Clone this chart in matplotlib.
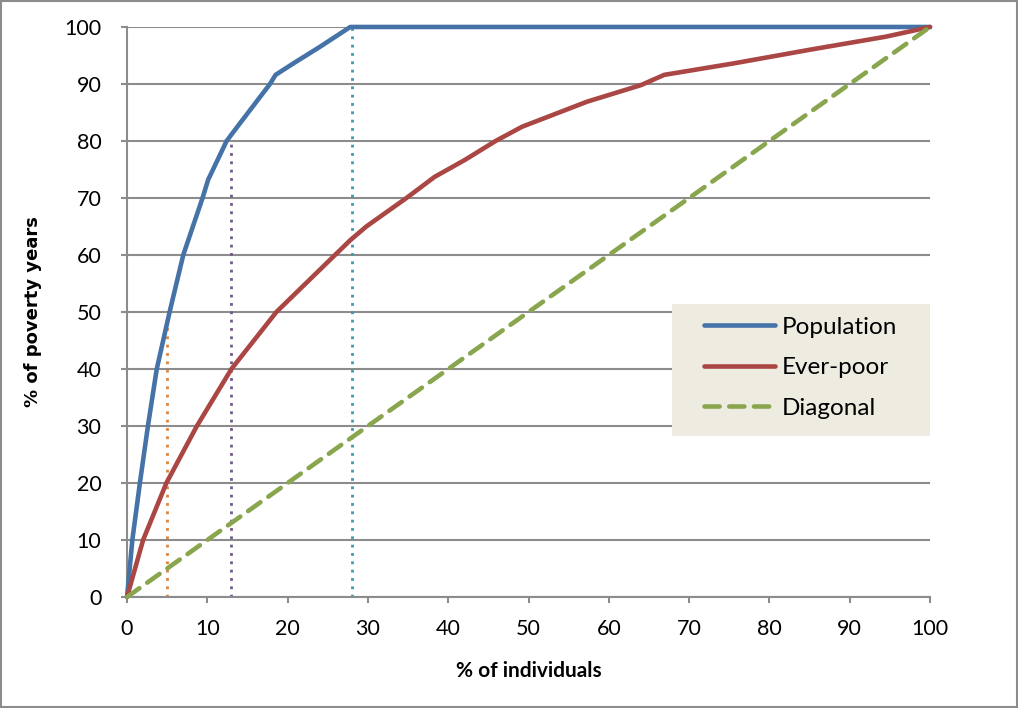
import matplotlib.pyplot as plt
from matplotlib.patches import Rectangle

# data
pop_x = [0, 0.66, 1.6, 2.6, 3.7, 5.3, 7.0, 9.4, 10.1, 12.4, 13.9, 17.8, 18.5, 20.7, 24, 27.8, 100]
pop_y = [0, 10, 20, 30, 40, 50, 60, 70, 73.2, 80, 82.8, 90, 91.6, 93.6, 96.5, 100, 100]

poor_x = [0, 2.0, 4.9, 8.7, 13.0, 18.6, 25.9, 27.8, 29.8, 34.8, 38.3, 42.1,
          45.9, 49.2, 57.3, 64, 66.9, 75.5, 85, 94.5, 100]
poor_y = [0, 10, 20, 30, 40, 50, 60, 62.6, 65, 70, 73.7, 76.7,
          80, 82.5, 86.9, 89.8, 91.6, 93.6, 96, 98.3, 100]

diag_x = [0, 100]
diag_y = [0, 100]

# vertical dotted markers
mark_x = [5, 13, 28]
mark_top = [48, 80, 100]
mark_colors = ['#DB843D', '#71588F', '#4198AF']

ticks = list(range(0, 101, 10))

plt.rcParams['font.family'] = ['Lato', 'DejaVu Sans']

fig = plt.figure(figsize=(10.18, 7.08), dpi=100)
ax = fig.add_axes([0.1248, 0.1568, 0.7888, 0.8051])

for xv, top, c in zip(mark_x, mark_top, mark_colors):
    ax.plot([xv, xv], [0, top], color=c, lw=2, linestyle=(0, (1, 2)), zorder=2)

ax.plot(pop_x, pop_y, color='#4572A7', lw=3.3, label='Population', zorder=3,
        solid_capstyle='round', clip_on=False)
ax.plot(poor_x, poor_y, color='#AA4643', lw=3.3, label='Ever-poor', zorder=3,
        solid_capstyle='round', clip_on=False)
ax.plot(diag_x, diag_y, color='#89A54E', lw=3.3, linestyle=(0, (3.3, 2.1)),
        label='Diagonal', zorder=3, dash_capstyle='round', clip_on=False)

ax.set_xlim(0, 100)
ax.set_ylim(0, 100)
ax.set_xticks(ticks)
ax.set_yticks(ticks)
ax.yaxis.grid(True, color='#8C8C8C', lw=1.5)
ax.set_axisbelow(True)
for s in ['top', 'right']:
    ax.spines[s].set_visible(False)
for s in ['left', 'bottom']:
    ax.spines[s].set_color('#8C8C8C')
    ax.spines[s].set_linewidth(1.5)
ax.tick_params(axis='both', colors='#8C8C8C', width=1.5, length=4.5,
               labelsize=15.5, labelcolor='black')
ax.tick_params(axis='x', pad=11)
ax.tick_params(axis='y', pad=14)

ax.set_xlabel('% of individuals', fontsize=15, fontweight='bold', labelpad=16)
ax.set_ylabel('% of poverty years', fontsize=13, fontweight='bold', labelpad=16,
              family='DejaVu Sans')

# legend frame drawn separately so the padding can match
ax.add_patch(Rectangle((0.6787, 0.2825), 0.3213, 0.2315, transform=ax.transAxes,
                       facecolor='#EEECE1', edgecolor='none', zorder=4))
leg = ax.legend(loc='center left', bbox_to_anchor=(0.7186, 0.4018), borderaxespad=0,
                borderpad=0, fontsize=17.5, handlelength=2.9, handletextpad=0.3,
                labelspacing=0.8, frameon=False)
leg.set_zorder(5)

fig.patches.append(Rectangle((0.001, 0.001), 0.998, 0.998, transform=fig.transFigure,
                             fill=False, edgecolor='#8C8C8C', lw=1.5))

fig.savefig('out.png', dpi=100)
